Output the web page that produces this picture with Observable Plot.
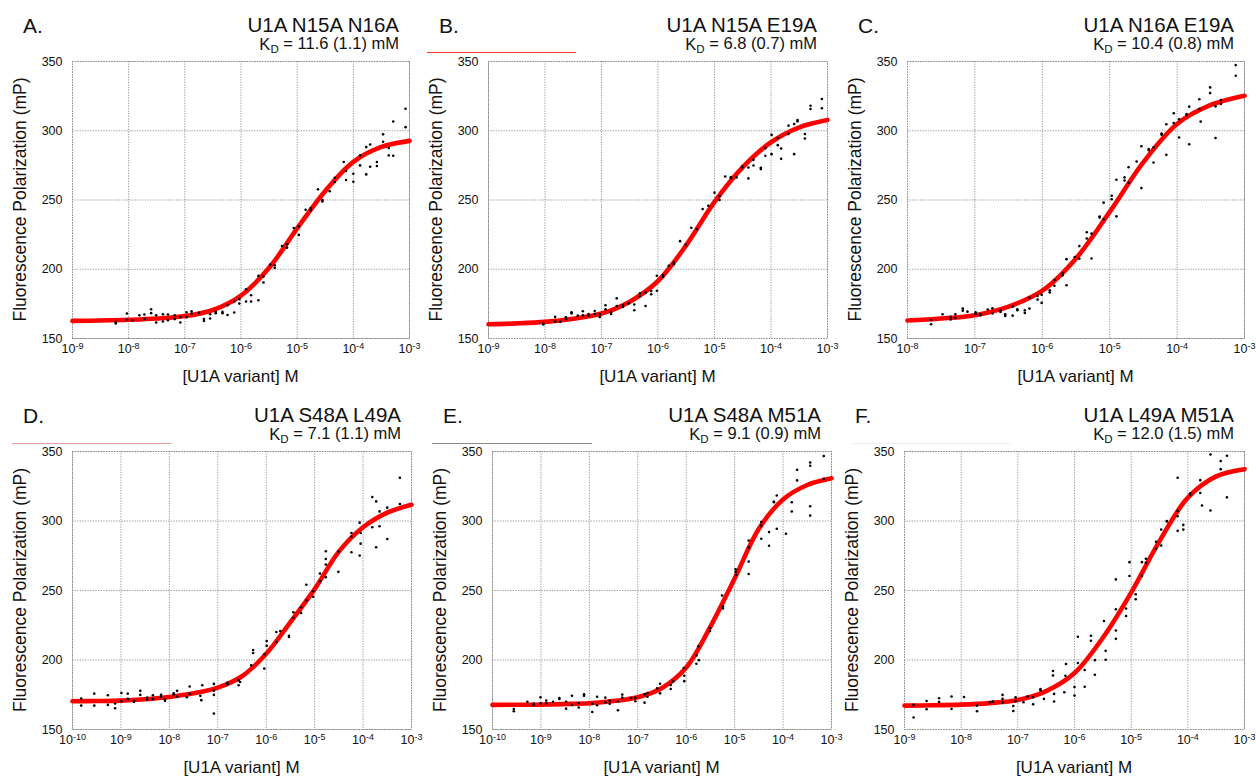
<!DOCTYPE html>
<html><head><meta charset="utf-8">
<script src="https://cdn.jsdelivr.net/npm/d3@7"></script>
<script src="https://cdn.jsdelivr.net/npm/@observablehq/plot@0.6"></script>
<style>
body{margin:0;background:#fff;}
#wrap{position:relative;width:1256px;height:778px;overflow:hidden;font-family:"Liberation Sans",Arial,Helvetica,sans-serif;}
#wrap svg{position:absolute;}
</style></head><body><div id="wrap"></div>
<script>
// ---------- data (x = log10 concentration [M], y = fluorescence polarization mP) ----------
const letters = ["A.","B.","C.","D.","E.","F."];
const titles = ["U1A N15A N16A","U1A N15A E19A","U1A N16A E19A","U1A S48A L49A","U1A S48A M51A","U1A L49A M51A"];
const kdValues = ["11.6 (1.1)","6.8 (0.7)","10.4 (0.8)","7.1 (1.1)","9.1 (0.9)","12.0 (1.5)"];
const xExpDomains = [[-9,-3],[-9,-3],[-8,-3],[-10,-3],[-10,-3],[-9,-3]];
const yTicks = [150,200,250,300,350];
const xLabel = "[U1A variant] M";
const yLabel = "Fluorescence Polarization (mP)";

const pointsA = [[-8.23,162.0],[-8.23,160.8],[-8.03,168.0],[-8.03,163.5],[-7.93,163.2],[-7.81,166.8],[-7.72,167.3],[-7.72,164.0],[-7.60,171.1],[-7.60,168.3],[-7.51,166.8],[-7.51,161.5],[-7.39,167.5],[-7.39,162.3],[-7.30,167.3],[-7.30,163.2],[-7.18,166.8],[-7.18,164.0],[-7.08,165.4],[-7.08,161.5],[-6.97,169.0],[-6.97,165.4],[-6.88,169.7],[-6.88,168.0],[-6.75,168.5],[-6.66,164.0],[-6.66,162.7],[-6.55,167.5],[-6.55,164.4],[-6.45,169.2],[-6.45,168.3],[-6.33,169.2],[-6.33,168.3],[-6.24,174.0],[-6.24,167.0],[-6.12,176.7],[-6.12,168.8],[-6.03,178.4],[-6.03,175.2],[-5.91,185.6],[-5.91,176.7],[-5.82,181.2],[-5.82,176.7],[-5.69,195.2],[-5.69,177.6],[-5.60,194.7],[-5.60,190.4],[-5.48,203.4],[-5.40,202.9],[-5.40,201.0],[-5.27,216.8],[-5.18,218.0],[-5.18,215.6],[-5.06,229.8],[-4.97,230.8],[-4.97,224.8],[-4.85,243.0],[-4.76,244.2],[-4.76,242.5],[-4.63,257.7],[-4.55,250.0],[-4.55,249.0],[-4.42,256.3],[-4.33,266.1],[-4.33,263.0],[-4.17,277.4],[-4.13,270.9],[-4.13,264.4],[-4.00,269.0],[-4.00,263.2],[-3.88,282.2],[-3.88,275.0],[-3.77,288.2],[-3.77,268.5],[-3.70,290.1],[-3.70,274.0],[-3.58,277.4],[-3.58,274.5],[-3.47,297.4],[-3.47,292.1],[-3.37,287.5],[-3.37,282.2],[-3.29,306.7],[-3.29,282.0],[-3.07,315.9],[-3.07,302.6]];
const pointsB = [[-8.03,160.8],[-8.03,160.1],[-7.82,165.6],[-7.82,162.2],[-7.73,162.0],[-7.63,165.3],[-7.63,163.9],[-7.53,169.0],[-7.53,168.0],[-7.42,166.5],[-7.33,169.7],[-7.33,166.8],[-7.23,167.7],[-7.23,166.5],[-7.12,169.9],[-7.12,167.7],[-7.03,167.7],[-7.03,165.6],[-6.93,174.0],[-6.93,171.1],[-6.83,169.0],[-6.83,167.7],[-6.73,179.0],[-6.73,173.5],[-6.62,174.2],[-6.62,172.8],[-6.52,175.2],[-6.42,174.5],[-6.42,170.4],[-6.32,182.6],[-6.32,180.5],[-6.22,183.1],[-6.22,173.5],[-6.12,184.3],[-6.12,181.9],[-6.02,195.3],[-6.02,184.5],[-5.91,195.8],[-5.91,194.6],[-5.81,202.5],[-5.72,204.9],[-5.72,203.7],[-5.61,220.3],[-5.51,217.9],[-5.41,229.9],[-5.31,229.1],[-5.21,243.5],[-5.11,245.9],[-5.00,255.3],[-4.91,252.9],[-4.91,250.0],[-4.81,267.0],[-4.71,266.5],[-4.71,265.8],[-4.61,266.3],[-4.51,274.2],[-4.51,273.5],[-4.40,273.5],[-4.40,265.6],[-4.31,279.0],[-4.31,274.9],[-4.18,273.3],[-4.18,272.3],[-4.10,287.4],[-4.10,281.9],[-3.99,297.0],[-3.99,283.1],[-3.88,294.8],[-3.88,289.6],[-3.82,287.2],[-3.82,279.7],[-3.69,303.7],[-3.69,297.7],[-3.59,304.9],[-3.59,283.1],[-3.53,307.8],[-3.53,306.8],[-3.40,297.7],[-3.40,294.4],[-3.30,318.1],[-3.30,315.7],[-3.10,322.9],[-3.10,316.2]];
const pointsC = [[-7.65,163.4],[-7.65,160.3],[-7.48,167.5],[-7.36,165.6],[-7.36,163.7],[-7.29,167.5],[-7.29,164.9],[-7.18,171.6],[-7.18,170.1],[-7.11,169.4],[-6.99,168.9],[-6.99,167.7],[-6.92,167.5],[-6.92,166.8],[-6.81,170.9],[-6.74,171.8],[-6.74,168.0],[-6.62,170.1],[-6.62,169.2],[-6.55,167.5],[-6.55,166.3],[-6.44,173.0],[-6.44,166.5],[-6.37,171.1],[-6.37,170.4],[-6.26,170.4],[-6.26,168.5],[-6.19,179.5],[-6.19,171.6],[-6.07,180.7],[-6.07,178.1],[-6.01,181.6],[-6.01,175.7],[-5.89,184.8],[-5.89,183.3],[-5.82,192.2],[-5.82,188.1],[-5.70,197.0],[-5.70,195.6],[-5.64,207.3],[-5.64,188.4],[-5.52,208.8],[-5.45,216.7],[-5.45,207.6],[-5.34,226.7],[-5.34,222.2],[-5.27,225.8],[-5.27,207.8],[-5.15,238.0],[-5.15,237.3],[-5.09,248.1],[-5.09,236.1],[-4.97,253.1],[-4.97,250.5],[-4.90,264.6],[-4.90,238.2],[-4.78,266.3],[-4.78,264.1],[-4.72,273.7],[-4.72,262.5],[-4.60,277.8],[-4.53,288.8],[-4.53,258.6],[-4.42,286.7],[-4.42,286.0],[-4.35,288.1],[-4.35,277.1],[-4.23,298.0],[-4.23,297.2],[-4.16,304.7],[-4.16,282.6],[-4.05,312.6],[-4.05,305.6],[-3.97,308.3],[-3.97,295.1],[-3.86,312.1],[-3.86,311.4],[-3.82,317.4],[-3.82,290.3],[-3.67,322.7],[-3.67,315.7],[-3.65,306.6],[-3.51,331.3],[-3.51,327.2],[-3.43,317.6],[-3.43,294.8],[-3.35,322.2],[-3.35,319.3],[-3.13,347.4],[-3.13,339.7]];
const pointsD = [[-9.82,172.2],[-9.82,167.2],[-9.55,175.8],[-9.55,167.2],[-9.27,174.6],[-9.27,167.7],[-9.12,168.7],[-9.12,165.3],[-8.99,176.3],[-8.99,170.3],[-8.86,175.8],[-8.86,172.0],[-8.73,170.6],[-8.73,169.9],[-8.60,177.8],[-8.60,174.9],[-8.46,173.0],[-8.46,171.5],[-8.34,174.6],[-8.34,172.0],[-8.17,174.9],[-8.17,173.4],[-8.09,171.8],[-8.09,170.6],[-7.91,176.1],[-7.91,175.1],[-7.84,177.8],[-7.84,173.7],[-7.64,173.2],[-7.58,180.9],[-7.58,175.8],[-7.36,174.2],[-7.34,171.1],[-7.32,181.8],[-7.08,182.8],[-7.08,178.0],[-7.08,174.9],[-7.08,161.5],[-6.80,183.7],[-6.80,182.5],[-6.57,185.4],[-6.54,184.2],[-6.57,181.8],[-6.31,196.2],[-6.27,207.2],[-6.27,205.0],[-6.04,204.1],[-6.04,193.8],[-5.99,213.6],[-5.99,210.3],[-5.79,220.1],[-5.79,212.9],[-5.71,220.8],[-5.53,217.5],[-5.53,216.5],[-5.44,234.4],[-5.44,230.4],[-5.28,237.8],[-5.28,233.9],[-5.17,254.1],[-5.17,242.8],[-5.03,249.5],[-5.03,245.5],[-4.89,262.2],[-4.89,256.7],[-4.77,278.2],[-4.77,272.7],[-4.77,268.7],[-4.77,259.6],[-4.51,278.0],[-4.51,263.4],[-4.24,291.4],[-4.24,288.8],[-4.24,277.5],[-4.07,298.8],[-4.05,291.4],[-4.05,283.7],[-4.07,275.1],[-3.81,317.2],[-3.81,295.5],[-3.73,314.1],[-3.73,281.1],[-3.66,306.9],[-3.66,296.2],[-3.50,309.6],[-3.50,287.1],[-3.24,331.1],[-3.24,312.2]];
const pointsE = [[-9.56,164.8],[-9.56,163.1],[-9.28,170.0],[-9.15,168.6],[-9.15,167.7],[-9.01,173.2],[-9.01,168.9],[-8.89,170.8],[-8.89,168.9],[-8.75,170.0],[-8.62,172.7],[-8.62,172.0],[-8.48,170.0],[-8.48,165.0],[-8.36,174.3],[-8.36,167.7],[-8.22,169.1],[-8.22,165.8],[-8.11,175.3],[-8.11,174.3],[-7.94,168.4],[-7.94,162.6],[-7.84,173.6],[-7.84,167.5],[-7.67,172.9],[-7.67,169.6],[-7.58,170.8],[-7.58,168.6],[-7.41,170.3],[-7.41,163.8],[-7.32,175.1],[-7.32,172.9],[-7.14,172.7],[-7.05,172.9],[-7.05,170.3],[-6.86,175.3],[-6.86,169.3],[-6.80,176.3],[-6.80,173.6],[-6.60,179.6],[-6.54,182.9],[-6.54,176.0],[-6.32,179.1],[-6.32,182.0],[-6.27,184.6],[-6.05,194.2],[-6.04,188.7],[-6.04,184.8],[-5.79,203.2],[-5.79,197.3],[-5.75,209.9],[-5.74,199.9],[-5.51,223.0],[-5.51,220.9],[-5.26,246.4],[-5.24,238.5],[-5.24,237.1],[-4.98,265.3],[-4.98,263.4],[-4.97,261.2],[-4.71,286.0],[-4.71,281.0],[-4.71,270.8],[-4.71,261.9],[-4.45,299.2],[-4.45,296.8],[-4.45,287.2],[-4.29,292.0],[-4.29,282.2],[-4.19,314.0],[-4.19,313.5],[-4.13,318.3],[-4.13,294.4],[-3.94,290.8],[-3.82,313.5],[-3.82,306.8],[-3.71,336.9],[-3.71,329.2],[-3.44,342.1],[-3.44,339.7],[-3.44,310.6],[-3.44,303.9],[-3.16,346.7],[-3.16,330.4]];
const pointsF = [[-8.84,167.7],[-8.84,158.6],[-8.61,170.5],[-8.61,164.6],[-8.39,172.5],[-8.39,169.8],[-8.17,173.7],[-8.17,164.8],[-7.95,173.4],[-7.72,167.2],[-7.72,163.1],[-7.49,169.6],[-7.44,170.1],[-7.27,174.9],[-7.27,172.0],[-7.27,169.4],[-7.08,166.9],[-7.08,163.3],[-7.04,173.2],[-7.04,170.3],[-6.90,169.6],[-6.83,173.7],[-6.73,168.2],[-6.73,173.2],[-6.60,179.1],[-6.60,178.2],[-6.54,172.0],[-6.38,192.1],[-6.38,188.9],[-6.36,175.6],[-6.36,170.1],[-6.18,176.8],[-6.16,188.7],[-6.15,197.1],[-6.00,180.6],[-6.00,174.4],[-5.94,197.8],[-5.94,216.7],[-5.82,192.8],[-5.82,180.8],[-5.71,217.4],[-5.71,213.8],[-5.64,199.9],[-5.64,189.4],[-5.48,228.1],[-5.45,206.6],[-5.45,200.2],[-5.27,258.0],[-5.27,236.5],[-5.27,221.2],[-5.27,215.2],[-5.09,231.7],[-5.09,237.0],[-5.03,270.4],[-5.03,260.4],[-4.92,247.3],[-4.92,243.7],[-4.81,270.4],[-4.81,260.4],[-4.74,272.8],[-4.74,270.0],[-4.56,285.0],[-4.56,280.0],[-4.47,282.4],[-4.47,293.8],[-4.37,299.6],[-4.37,300.0],[-4.18,307.2],[-4.18,303.4],[-4.18,292.9],[-4.08,297.2],[-4.08,293.8],[-3.96,319.9],[-3.96,318.7],[-4.18,331.1],[-3.78,329.4],[-3.78,320.1],[-3.75,311.1],[-3.60,347.8],[-3.60,307.5],[-3.42,343.1],[-3.42,337.3],[-3.31,346.9],[-3.31,317.0]];

// fitted curves (log10 conc, mP)
const curveA = [[-9,162.7],[-8.5,163.0],[-8,163.5],[-7.5,164.4],[-7,166.2],[-6.5,170.6],[-6,181.0],[-5.5,201.0],[-5,229.5],[-4.5,256.5],[-4,277.5],[-3.5,288.3],[-3,292.7]];
const curveB = [[-9,160.3],[-8.5,160.9],[-8,162.0],[-7.5,164.3],[-7,168.0],[-6.5,176.6],[-6,191.5],[-5.5,217.4],[-5,248.6],[-4.5,273.7],[-4,291.7],[-3.5,302.5],[-3,307.8]];
const curveC = [[-8,163.0],[-7.5,164.4],[-7,166.8],[-6.5,173.0],[-6,184.5],[-5.5,207.8],[-5,241.4],[-4.5,277.3],[-4,304.9],[-3.5,318.6],[-3,325.3]];
const curveD = [[-10,170.3],[-9.5,170.5],[-9,170.8],[-8.5,171.8],[-8,173.4],[-7.5,176.0],[-7,180.1],[-6.5,188.3],[-6,204.5],[-5.5,227.3],[-5,251.0],[-4.5,278.0],[-4,295.5],[-3.5,306.0],[-3,311.7]];
const curveE = [[-10,167.7],[-9.5,167.8],[-9,167.9],[-8.5,168.3],[-8,168.9],[-7.5,170.5],[-7,173.2],[-6.5,179.9],[-6,194.6],[-5.5,224.0],[-5,258.6],[-4.5,294.4],[-4,315.5],[-3.5,325.9],[-3,330.7]];
const curveF = [[-9,167.2],[-8.5,167.4],[-8,167.9],[-7.5,169.0],[-7,171.2],[-6.5,177.6],[-6,190.6],[-5.5,216.0],[-5,248.5],[-4.5,285.5],[-4,316.8],[-3.5,332.1],[-3,337.3]];

const allPoints = [pointsA, pointsB, pointsC, pointsD, pointsE, pointsF];
const allCurves = [curveA, curveB, curveC, curveD, curveE, curveF];

// ---------- layout (plot-area boxes in page pixels) ----------
const boxes = [
  {left:72, right:409, top:61, bottom:338},
  {left:488, right:827, top:61, bottom:338},
  {left:907, right:1244, top:61, bottom:338},
  {left:72, right:411, top:451, bottom:729},
  {left:492, right:831, top:451, bottom:729},
  {left:904, right:1244, top:451, bottom:729}
];
const FONT = '"Liberation Sans", Arial, Helvetica, sans-serif';
const NS = "http://www.w3.org/2000/svg";
const wrap = document.getElementById("wrap");

boxes.forEach((b, i) => {
  const [e0, e1] = xExpDomains[i];
  const decades = d3.range(e0, e1 + 1).map(e => Math.pow(10, e));
  const mL = 72, mT = 61, mR = 16, mB = 50;
  const dotted = {stroke: "#9a9a9a", strokeOpacity: 1, strokeWidth: 1, strokeDasharray: "1.3,1.3"};
  const chart = Plot.plot({
    width: b.right - b.left + mL + mR,
    height: b.bottom - b.top + mT + mB,
    marginLeft: mL, marginTop: mT, marginRight: mR, marginBottom: mB,
    style: {fontFamily: FONT, fontSize: "12.5px", color: "#111", background: "transparent", overflow: "visible"},
    x: {type: "log", domain: [Math.pow(10, e0), Math.pow(10, e1)]},
    y: {domain: [150, 350]},
    marks: [
      Plot.gridX(decades, dotted),
      Plot.gridY(yTicks, dotted),
      Plot.frame({stroke: "#8c8c8c", strokeDasharray: "1.3,1.3"}),
      Plot.axisY(yTicks, {tickSize: 0, tickPadding: 10, label: null, fontSize: 12.5}),
      Plot.axisX(decades, {tickSize: 0, tickPadding: 6, label: null, fontSize: 12.5,
        tickFormat: d => String(Math.round(Math.log10(d)))}),
      Plot.line(allCurves[i], {x: d => Math.pow(10, d[0]), y: d => d[1], stroke: "#ff0000", strokeWidth: 4.6, curve: "catmull-rom"}),
      Plot.dot(allPoints[i], {x: d => Math.pow(10, d[0]), y: d => d[1], r: 1.3, fill: "#000", stroke: "none"})
    ]
  });
  // superscript exponents on the x tick labels
  chart.querySelectorAll('g[aria-label="x-axis tick label"] text').forEach(t => {
    const e = t.textContent; t.textContent = "";
    const a = document.createElementNS(NS, "tspan"); a.textContent = "10"; t.appendChild(a);
    const s = document.createElementNS(NS, "tspan"); s.textContent = e;
    s.setAttribute("dy", "-0.45em"); s.setAttribute("font-size", "0.72em"); t.appendChild(s);
  });
  chart.style.left = (b.left - mL) + "px";
  chart.style.top = (b.top - mT) + "px";
  wrap.appendChild(chart);
});

// ---------- annotation overlay (titles, labels) ----------
const ov = d3.select(wrap).append("svg").attr("width", 1256).attr("height", 778)
  .style("left", "0px").style("top", "0px").style("pointer-events", "none")
  .attr("font-family", FONT).attr("fill", "#111");

// stray rules present in the original figure
const strayRules = [
  {x1:427, x2:576, y:52.5, c:"#ff3030"},
  {x1:12, x2:171, y:443.5, c:"#eba0a0"},
  {x1:432, x2:592, y:443.5, c:"#8c8c8c"},
  {x1:852, x2:1011, y:443.5, c:"#eeeeee"}
];
strayRules.forEach(r => ov.append("line").attr("x1", r.x1).attr("x2", r.x2).attr("y1", r.y).attr("y2", r.y)
  .attr("stroke", r.c).attr("stroke-width", 1));

boxes.forEach((b, i) => {
  ov.append("text").attr("x", b.left - 49).attr("y", b.top - 28).attr("font-size", 21).text(letters[i]);
  ov.append("text").attr("x", b.right - 10).attr("y", b.top - 29).attr("font-size", 20.5)
    .attr("text-anchor", "end").text(titles[i]);
  const kd = ov.append("text").attr("x", b.right - 10).attr("y", b.top - 11).attr("font-size", 16.5)
    .attr("text-anchor", "end");
  kd.append("tspan").text("K");
  kd.append("tspan").attr("dy", "0.3em").attr("font-size", "0.7em").text("D");
  kd.append("tspan").attr("dy", "-0.3em").text(" = " + kdValues[i] + " mM");
  ov.append("text").attr("x", (b.left + b.right) / 2).attr("y", b.bottom + 44).attr("font-size", 17)
    .attr("text-anchor", "middle").text(xLabel);
  const cy = (b.top + b.bottom) / 2, cx = b.left - 52;
  ov.append("text").attr("transform", `translate(${cx},${cy}) rotate(-90)`).attr("dy", "0.36em")
    .attr("font-size", 17.5).attr("text-anchor", "middle").text(yLabel);
});
</script></body></html>
